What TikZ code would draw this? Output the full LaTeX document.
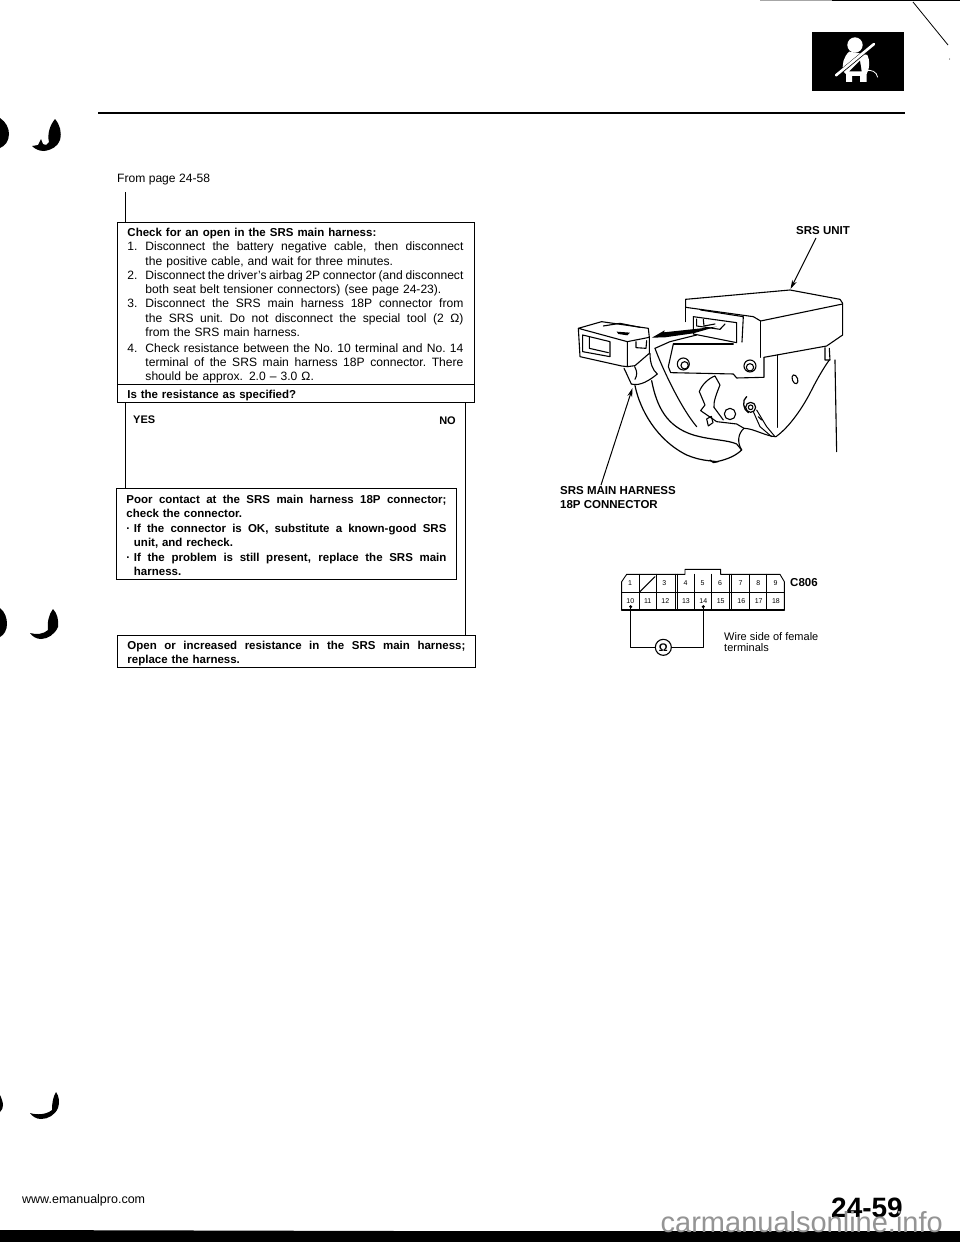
\documentclass[tikz,border=0pt]{standalone}
\usepackage{fontspec}
\setmainfont{Liberation Sans}
\usetikzlibrary{arrows.meta}
\newcommand{\JL}[2]{\leavevmode\hbox to #1pt{\spaceskip=.28em plus 1fil minus .12em\xspaceskip=\spaceskip\relax #2\unskip}}
\newcommand{\NL}[2]{\makebox[18pt][l]{#1}#2}
\newcommand{\fcstrut}{\rule{0pt}{13pt}}
\tikzset{
  x=1pt,y=-1pt,
  fcbox/.style={draw=black,line width=0.9pt,anchor=north west,inner xsep=10pt,inner ysep=0pt,align=left,font=\fontsize{12.1}{14.25}\selectfont},
  boldbox/.style={fcbox,font=\fontsize{11.5}{14.3}\selectfont\bfseries},
  flow/.style={draw=black,line width=1pt},
  plain/.style={inner sep=0pt,anchor=west,font=\fontsize{12.1}{13}\selectfont},
  callout/.style={inner sep=0pt,anchor=west,align=left,font=\fontsize{11.5}{14}\selectfont\bfseries},
  leader/.style={draw=black,line width=1pt,-{Stealth[length=9pt,width=5pt]}},
  art/.style={draw=black,line width=1.1pt,line join=round,line cap=round},
  pin/.style={inner sep=0pt,font=\fontsize{7}{7}\selectfont},
  ink/.style={fill=black,draw=none}
}
\begin{document}
\begin{tikzpicture}
\useasboundingbox (0,0) rectangle (960,1242);
\fill[white] (0,0) rectangle (960,1242);

% ---- page furniture
\draw[black!35,line width=0.8pt] (760,0.5) -- (832,0.5);
\draw[black,line width=1.4pt] (832,0.7) -- (960,0.7);
\draw[black,line width=0.8pt] (913,2) -- (948,45);
\fill[black] (949.5,59) circle (0.5);
\draw[black,line width=1.5pt] (98,113) -- (905,113);

% seat belt icon
\fill[black] (812,32) rectangle (904,91);
\begin{scope}[shift={(760,0)},x=0.3333pt,y=-0.3333pt]
  \fill[white] (285,135) circle (23);
  \fill[white] (268,155) .. controls (250,170) and (245,195) .. (250,215) -- (258,222) -- (258,246) -- (276,246) -- (276,228) -- (300,228) -- (300,246) -- (320,246) -- (320,222) .. controls (330,205) and (330,180) .. (322,165) -- (300,160) -- cycle;
  \draw[black,line width=3.8pt] (222,232) -- (345,130);
  \draw[white,line width=2.6pt,line cap=round] (228,226) -- (342,132);
  \fill[black] (268,214) -- (300,182) -- (305,214) -- cycle;
  \draw[white,line width=0.8pt] (315,212) .. controls (335,208) and (350,215) .. (353,232);
\end{scope}

% registration marks
\fill[black] (0,118) .. controls (6,122) and (9,128) .. (9,134) .. controls (9,141) and (5,146) .. (0,148) -- cycle;
\fill[black] (55,119) .. controls (60,125) and (62,132) .. (60,140) .. controls (58,146) and (52,150) .. (44,151) .. controls (39,151) and (35,149) .. (32,146) -- (38,145) -- (41,139) -- (43,144) .. controls (46,146) and (48,144) .. (49,142) .. controls (47,134) and (50,125) .. (55,119) -- cycle;
\fill[black] (0,608) .. controls (5,612) and (7,618) .. (7,624) .. controls (7,630) and (4,635) .. (0,637) -- cycle;
\fill[black] (53,609) .. controls (57,613) and (59,620) .. (58,627) .. controls (55,634) and (48,639) .. (41,639) .. controls (36,639) and (32,636) .. (30,633) .. controls (36,635) and (44,634) .. (48,630) .. controls (47,622) and (49,614) .. (53,609) -- cycle;
\fill[black] (0,1095) .. controls (2,1099) and (3,1103) .. (3,1105) .. controls (3,1108) and (2,1110) .. (0,1112) -- cycle;
\fill[black] (56,1092) .. controls (59,1096) and (60,1102) .. (58,1108) .. controls (55,1115) and (48,1119) .. (41,1119) .. controls (36,1119) and (32,1116) .. (30,1113) .. controls (36,1115) and (46,1115) .. (52,1110) .. controls (52,1103) and (53,1097) .. (56,1092) -- cycle;

% ---- flow chart
\node[plain] (frompage) at (117,180) {From page 24-58};
\coordinate (startpt) at (125,192);

\node[fcbox,text width=337pt,minimum height=162pt] (check) at (117,222) {%
\fcstrut{\fontsize{11.5}{14.25}\selectfont\bfseries Check for an open in the SRS main harness:}\\
\NL{1.}{\JL{318}{Disconnect the battery negative cable, then disconnect}}\\
\NL{}{the positive cable, and wait for three minutes.}\\
\NL{2.}{\JL{318}{Disconnect the driver's airbag 2P connector (and disconnect}}\\
\NL{}{both seat belt tensioner connectors) (see page 24-23).}\\
\NL{3.}{\JL{318}{Disconnect the SRS main harness 18P connector from}}\\
\NL{}{\JL{318}{the SRS unit. Do not disconnect the special tool (2 Ω)}}\\
\NL{}{from the SRS main harness.}\\[1.4pt]
\NL{4.}{\JL{318}{Check resistance between the No. 10 terminal and No. 14}}\\
\NL{}{\JL{318}{terminal of the SRS main harness 18P connector. There}}\\
\NL{}{should be approx. 2.0 – 3.0 Ω.}};

\node[boldbox,text width=337pt,minimum height=18pt] (question) at (117,384) {\fcstrut Is the resistance as specified?};

\node[boldbox,text width=320pt,minimum height=91pt,font=\fontsize{11.5}{14.4}\selectfont\bfseries] (poor) at (116,488) {%
\rule{0pt}{11pt}\JL{320}{Poor contact at the SRS main harness 18P connector;}\\
check the connector.\\
\makebox[7.5pt][l]{·}\JL{312.5}{If the connector is OK, substitute a known-good SRS}\\
\makebox[7.5pt][l]{}unit, and recheck.\\
\makebox[7.5pt][l]{·}\JL{312.5}{If the problem is still present, replace the SRS main}\\
\makebox[7.5pt][l]{}harness.};

\node[boldbox,text width=338pt,minimum height=32pt,font=\fontsize{11.5}{14.2}\selectfont\bfseries] (open) at (117,635) {%
\fcstrut\JL{338}{Open or increased resistance in the SRS main harness;}\\
replace the harness.};

\coordinate (yesx) at (125,0);
\coordinate (nox) at (465,0);
\draw[flow] (startpt) -- (startpt |- check.north);
\draw[flow] (yesx |- question.south) -- (yesx |- poor.north);
\draw[flow] (nox |- question.south) -- (nox |- open.north);
\node[plain,font=\fontsize{11}{12}\selectfont\bfseries] (yes) at (133,420) {YES};
\node[plain,font=\fontsize{11}{12}\selectfont\bfseries,anchor=east] (no) at (456,421) {NO};

% ---- SRS unit illustration
\begin{scope}[shift={(540,220)},x=0.3333pt,y=-0.3333pt]
  % unit
  \draw[art] (437,238) -- (750,210) -- (900,238) -- (908,250) -- (908,345) -- (860,378) -- (672,412);
  \draw[art] (437,238) -- (437,262) -- (640,290) -- (662,303) -- (908,252);
  \draw[art] (662,303) -- (662,412);
  \draw[art] (437,262) -- (437,305);
  \draw[art] (460,290) -- (590,308) -- (590,368) -- (460,342) -- cycle;
  \draw[art] (470,297) -- (470,318) -- (540,328) -- (555,312);
  \draw[art] (482,270) -- (610,290) -- (606,366);
  \draw[art] (490,298) -- (492,318) -- (525,312);
  % bracket
  \draw[art] (345,385) -- (390,365) -- (470,345);
  \draw[art] (400,372) -- (385,440) -- (392,458) -- (580,462) -- (590,474) -- (672,472) -- (672,412);
  \draw[art] (400,372) -- (580,372);
  \draw[art] (430,432) circle (18);
  \draw[art] (434,436) circle (11);
  \draw[art] (630,438) circle (18);
  \draw[art] (630,442) circle (11);
  \draw[art] (712,405) -- (712,622);
  \draw[art] (855,383) -- (855,420) -- (870,420) -- (868,385);
  \draw[art] (868,420) .. controls (850,445) and (830,480) .. (815,510) .. controls (790,560) and (750,620) .. (708,650);
  \draw[art] (885,420) -- (890,695);
  \draw[art,rotate around={20:(765,478)}] (765,478) ellipse (8 and 14);
  % lower part
  \draw[art] (345,385) .. controls (365,440) and (420,560) .. (470,620);
  \draw[art] (478,515) .. controls (485,495) and (505,475) .. (525,468) -- (540,495) .. controls (530,520) and (520,545) .. (522,562);
  \draw[art] (478,515) -- (495,555) -- (482,572) -- (530,605) -- (590,612) -- (612,625);
  \draw[art] (522,562) -- (550,600);
  \draw[art] (500,597) -- (514,589) -- (519,608) -- (505,618) -- cycle;
  \draw[art] (570,582) circle (17);
  \draw[art] (612,625) .. controls (595,640) and (590,665) .. (605,690);
  \draw[art] (612,625) .. controls (640,625) and (680,650) .. (708,650);
  % ground terminal
  \draw[art,line width=1.2pt] (632,562) circle (15);
  \draw[art] (632,562) circle (7);
  \draw[art,line width=1.3pt] (620,530) .. controls (605,540) and (610,570) .. (625,578);
  \draw[art,line width=1pt] (640,575) -- (660,620) -- (695,650);
  \draw[art,line width=1pt] (650,570) -- (680,620) -- (705,650);
  \draw[art] (655,590) -- (665,600);
  % harness connector
  \draw[art] (115,325) -- (185,305) -- (325,325) -- (328,352) -- (262,365) -- cycle;
  \draw[art] (115,325) -- (120,410) -- (245,438) -- (262,440) -- (262,365);
  \draw[art] (262,440) -- (285,437) -- (328,400) -- (328,352);
  \draw[art] (128,345) -- (210,365) -- (210,410) -- (128,395) -- cycle;
  \draw[art] (148,352) -- (148,385) -- (205,398);
  \draw[art] (190,318) -- (240,310) -- (300,322);
  \fill[black] (230,335) -- (270,338) -- (262,346) -- (235,342) -- cycle;
  \draw[art] (288,365) -- (288,383) -- (318,385) -- (320,362);
  % boot
  \draw[art] (252,445) .. controls (262,465) and (268,480) .. (274,492);
  \draw[art] (274,492) .. controls (300,500) and (330,480) .. (352,462);
  \draw[art] (330,400) .. controls (330,430) and (338,450) .. (352,462);
  \draw[art] (284,440) .. controls (292,455) and (292,465) .. (285,478);
  % harness
  \draw[art,line width=1.2pt] (285,497) .. controls (300,570) and (350,660) .. (440,705) .. controls (480,722) and (510,722) .. (530,725) .. controls (565,718) and (590,705) .. (605,690);
  \draw[art,line width=1.2pt] (335,482) .. controls (350,560) and (380,620) .. (460,645) .. controls (510,660) and (565,660) .. (590,672) -- (605,690);
  \draw[art] (510,720) -- (520,728) -- (535,725);
  % big arrow
  \fill[black] (336,353) -- (374,331) -- (372,337) -- (530,320) -- (460,340) -- (375,352) -- cycle;
\end{scope}

\node[callout] (unitlabel) at (796,231) {SRS UNIT};
\coordinate (unittipfrom) at (816,238);
\coordinate (unittip) at (790.5,289);
\draw[leader] (unittipfrom) -- (unittip);

\node[callout,anchor=north west] (harnesslabel) at (560,486) {SRS MAIN HARNESS\\18P CONNECTOR};
\coordinate (harnessfrom) at (601,485);
\coordinate (harnesstip) at (632.5,388);
\draw[leader] (harnessfrom) -- (harnesstip);

% ---- connector face
\begin{scope}[shift={(600,550)},x=0.3333pt,y=-0.3333pt]
  \draw[art,line width=0.9pt] (65,95) -- (80,73) -- (255,73) -- (255,58) -- (362,58) -- (362,73) -- (540,73) -- (553,95) -- (553,180) -- (65,180) -- cycle;
  \draw[art,line width=0.9pt] (65,127) -- (553,127);
  \foreach \cx in {118,170,225,233,282,335,388,395,448,500} {\draw[art,line width=0.9pt] (\cx,73) -- (\cx,180);}
  \draw[art] (118,127) -- (165,80);
  \draw[art,line width=1.4pt] (65,180) -- (553,180);
  \foreach \n/\cx in {1/90,3/193,4/257,5/308,6/360,7/422,8/475,9/527} {\node[pin] (p\n) at (\cx,100) {\n};}
  \foreach \n/\cx in {10/91,11/143,12/196,13/258,14/310,15/362,16/424,17/476,18/528} {\node[pin] (p\n) at (\cx,154) {\n};}
  \node[draw=black,circle,line width=1.1pt,minimum size=16pt,inner sep=0pt,font=\fontsize{11}{11}\selectfont\bfseries] (ohm) at (190,292) {Ω};
  \coordinate (t10) at (92,170);
  \coordinate (t14) at (310,170);
  \fill[black] (t10) circle (5) (t14) circle (5);
  \draw[art] (t10) |- (ohm.west);
  \draw[art] (t14) |- (ohm.east);
\end{scope}
\node[plain,font=\fontsize{11.5}{12}\selectfont\bfseries] (c806) at (790,583) {C806};
\node[plain,align=left,anchor=north west,font=\fontsize{11}{11}\selectfont] (wireside) at (724,632) {Wire side of female\\terminals};

% ---- footer
\node[plain,font=\fontsize{12.5}{13}\selectfont] (www) at (22,1200) {www.emanualpro.com};
\fill[black] (0,1230) -- (400,1231) -- (960,1231) -- (960,1242) -- (0,1242) -- cycle;
\node[plain,anchor=east,font=\fontsize{28}{28}\selectfont\bfseries] (pageno) at (903,1208) {24-59};
\node[plain,anchor=base east,text=black!42,font=\fontsize{29}{29}\selectfont] (site) at (943,1232) {carmanualsonline.info};
\end{tikzpicture}
\end{document}
